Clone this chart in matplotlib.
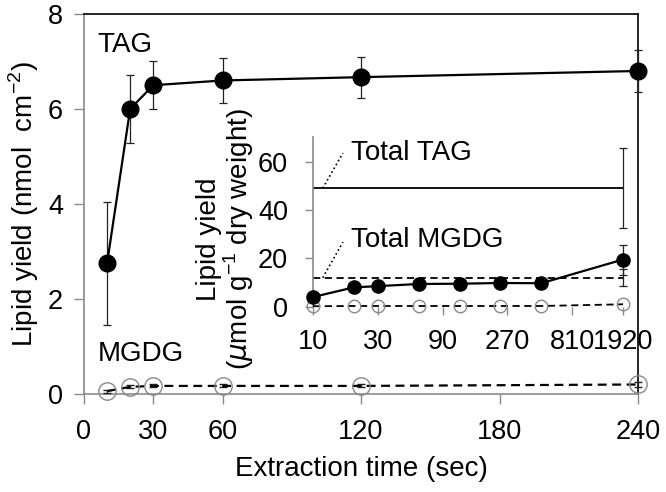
import matplotlib
matplotlib.use("Agg")
import matplotlib.pyplot as plt

plt.rcParams['font.family'] = ['Liberation Sans', 'DejaVu Sans']

# Main panel data
time_sec = [10, 20, 30, 60, 120, 240]
tag_main = [2.75, 6.0, 6.5, 6.6, 6.67, 6.8]
tag_main_err = [1.3, 0.72, 0.5, 0.47, 0.43, 0.44]
mgdg_main = [0.06, 0.15, 0.17, 0.17, 0.17, 0.2]
mgdg_main_err = [0.03, 0.03, 0.03, 0.03, 0.03, 0.06]

# Inset data
inset_time = [10, 20, 30, 60, 120, 240, 480, 1920]
tag_inset = [4.0, 8.0, 8.5, 9.4, 9.5, 9.8, 9.7, 19.5]
tag_inset_err = [0, 0, 0, 0, 0, 0, 0, 6.2]
mgdg_inset = [0.2, 0.3, 0.3, 0.3, 0.3, 0.3, 0.3, 1.0]
total_tag = 49.0
total_tag_err = 16.5
total_mgdg = 12.0
total_mgdg_err = 3.4
inset_ticks = [10, 30, 90, 270, 810, 1920]
inset_ticklabels = ['10', '30', '90', '270', '810', '1920']

main_xticks = [0, 30, 60, 120, 180, 240]
main_yticks = [0, 2, 4, 6, 8]

GRAY = '#8a8a8a'
FS = 20
TFS = 19.5
fig = plt.figure(figsize=(6.66, 4.92), dpi=100)
ax = fig.add_axes([0.1261, 0.1992, 0.832, 0.7724])

ax.errorbar(time_sec, tag_main, yerr=tag_main_err, color='black', lw=1.6,
            marker='o', ms=12, mfc='black', mec='black', ecolor='#222222',
            elinewidth=0.9, capsize=3, capthick=0.9, clip_on=False, zorder=3)
ax.errorbar(time_sec, mgdg_main, yerr=mgdg_main_err, color='black', lw=1.6, ls=(0, (4, 2.5)),
            marker='o', ms=12.5, mfc='none', mec=GRAY, mew=1.0, ecolor='#222222',
            elinewidth=0.9, capsize=3, capthick=0.9, clip_on=False, zorder=3)

ax.set_xlim(0, 240)
ax.set_ylim(0, 8)
ax.set_xticks(main_xticks)
ax.set_yticks(main_yticks)
ax.tick_params(axis='both', direction='out', length=7, width=1, color=GRAY,
               labelsize=TFS)
ax.tick_params(axis='x', pad=11)
ax.tick_params(axis='y', pad=8)
ax.spines['left'].set_color(GRAY)
ax.spines['bottom'].set_color(GRAY)
ax.spines['top'].set_color('black')
ax.spines['right'].set_color('black')
for s in ax.spines.values():
    s.set_linewidth(1.2)
ax.set_xlabel('Extraction time (sec)', fontsize=FS, labelpad=8)
ax.set_ylabel('Lipid yield (nmol  cm$^{\\mathregular{-2}}$)', fontsize=FS, labelpad=5)

ax.text(6, 7.35, 'TAG', fontsize=FS, ha='left', va='center')
ax.text(6, 0.85, 'MGDG', fontsize=FS, ha='left', va='center')

# Inset
ins = fig.add_axes([0.470, 0.3766, 0.4655, 0.3443])
ins.set_facecolor('none')
ins.set_xscale('log')
ins.set_xlim(10, 1920)
ins.set_ylim(0, 70)

ins.plot([10, 1920], [total_tag, total_tag], color='black', lw=1.3, zorder=2)
ins.errorbar([1920], [total_tag], yerr=[total_tag_err], fmt='none', ecolor='#222222',
             elinewidth=0.9, capsize=3, capthick=0.9, clip_on=False)
ins.plot([10, 1920], [total_mgdg, total_mgdg], color='black', lw=1.3, ls=(0, (4, 2.5)), zorder=2)
ins.errorbar([1920], [total_mgdg], yerr=[total_mgdg_err], fmt='none', ecolor='#222222',
             elinewidth=0.9, capsize=3, capthick=0.9, clip_on=False)

ins.errorbar(inset_time, tag_inset, yerr=tag_inset_err, color='black', lw=1.6,
             marker='o', ms=9.5, mfc='black', mec='black', ecolor='#222222',
             elinewidth=0.9, capsize=3, capthick=0.9, clip_on=False, zorder=4)
ins.plot(inset_time, mgdg_inset, color='black', lw=1.3, ls=(0, (4, 2.5)),
         marker='o', ms=9, mfc='none', mec=GRAY, mew=1.0, clip_on=False, zorder=4)

ins.set_xticks(inset_ticks)
ins.set_xticklabels(inset_ticklabels)
ins.minorticks_off()
ins.set_yticks([0, 20, 40, 60])
ins.tick_params(axis='both', direction='out', length=6, width=1, color=GRAY,
                labelsize=TFS)
ins.tick_params(axis='x', pad=10)
ins.tick_params(axis='y', pad=12)
ins.spines['top'].set_visible(False)
ins.spines['right'].set_visible(False)
ins.spines['bottom'].set_visible(False)
ins.spines['left'].set_color(GRAY)
ins.spines['left'].set_linewidth(1.2)
ins.set_ylabel('Lipid yield\n($\\mu$mol g$^{\\mathregular{-1}}$ dry weight)', fontsize=FS,
               linespacing=0.95, labelpad=2)
ins.yaxis.set_label_coords(-0.185, 0.40)

# annotations
ins.plot([11.8, 16.6], [total_tag, 63.5], color='black', lw=1.2, ls=':')
ins.text(19, 63.5, 'Total TAG', fontsize=FS, ha='left', va='center')
ins.plot([11.8, 16.6], [total_mgdg, 26.7], color='black', lw=1.2, ls=':')
ins.text(19, 27.6, 'Total MGDG', fontsize=FS, ha='left', va='center')

fig.savefig('out.png', dpi=100)
